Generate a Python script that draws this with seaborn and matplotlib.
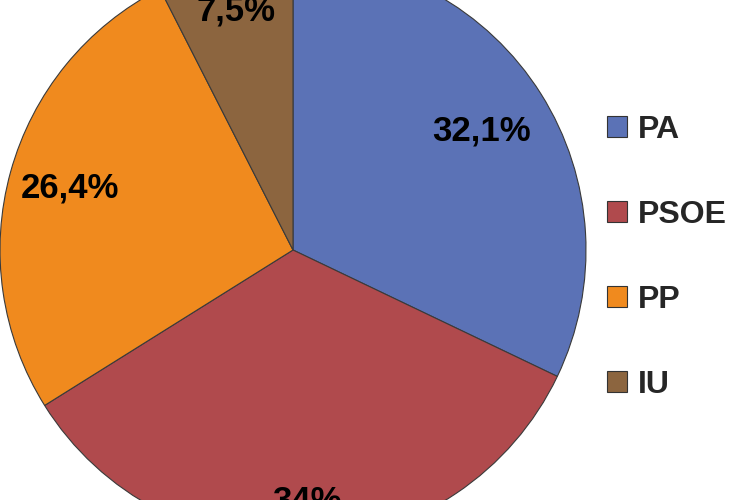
import numpy as np
import seaborn as sns
import matplotlib.pyplot as plt
from matplotlib.patches import Patch

# data
parties = ['PA', 'PSOE', 'PP', 'IU']
shares = [32.1, 34.0, 26.4, 7.5]
share_labels = ['32,1%', '34%', '26,4%', '7,5%']
colors = ['#5b72b6', '#b04a4d', '#f08a1e', '#8c653f']

sns.set_theme(style='white')
plt.rcParams['font.family'] = ['Liberation Sans', 'DejaVu Sans']

fig = plt.figure(figsize=(7.5, 5), dpi=100)
ax = fig.add_axes([0, 0, 1, 1])

wedges, _ = ax.pie(shares, colors=colors, startangle=90, counterclock=False,
                   radius=1.0,
                   wedgeprops=dict(edgecolor='#3a3a3a', linewidth=0.8))

# label radius per wedge (fraction of pie radius)
label_r = [0.76, 0.86, 0.79, 0.84]
for w, txt, r in zip(wedges, share_labels, label_r):
    ang = np.deg2rad((w.theta1 + w.theta2) / 2)
    ax.text(r * np.cos(ang), r * np.sin(ang), txt, ha='center', va='center',
            fontsize=25, fontweight='bold', color='black')

# pie centre at (293, 250) px, radius 293 px
ax.set_xlim(-1.0, 457 / 293)
ax.set_ylim(-250 / 293, 250 / 293)
ax.set_aspect('equal')
ax.axis('off')

handles = [Patch(facecolor=c, edgecolor='#333333', linewidth=0.8) for c in colors]
fig.legend(handles, parties, loc='center left', bbox_to_anchor=(0.792, 0.485),
           frameon=False, prop=dict(weight='bold', size=23),
           handlelength=0.62, handleheight=0.62, handletextpad=0.35,
           labelspacing=1.72, borderaxespad=0)

fig.savefig('out.png', dpi=100, facecolor='white')
